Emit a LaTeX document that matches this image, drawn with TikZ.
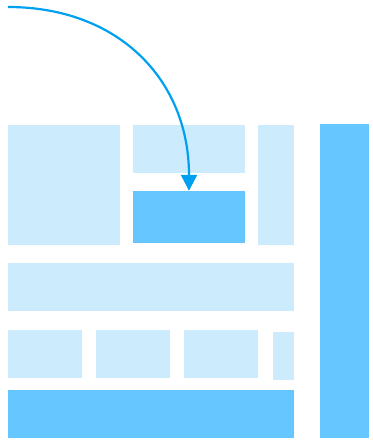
\documentclass[tikz,border=0pt]{standalone}
\usetikzlibrary{arrows.meta, positioning}
\definecolor{lightblock}{RGB}{204,235,253}
\definecolor{darkblock}{RGB}{102,198,255}
\definecolor{arrowcolor}{RGB}{0,160,240}

\begin{document}
\begin{tikzpicture}[x=1pt, y=-1pt]
  \tikzset{
    light/.style={
      fill=lightblock,
      draw=none,
      inner sep=0pt,
      anchor=center
    },
    dark/.style={
      fill=darkblock,
      draw=none,
      inner sep=0pt,
      anchor=center
    },
    moveto/.style={
      draw=arrowcolor,
      line width=2.2pt,
      -{Triangle[width=16pt, length=16pt]}
    }
  }
  \useasboundingbox (0,0) rectangle (372,441);

  % Upper blocks
  \node[light, minimum width=112pt, minimum height=120pt] at (64,185) (bigleft) {};
  \node[light, minimum width=112pt, minimum height=48pt] at (189,149) (topmid) {};
  \node[dark, minimum width=112pt, minimum height=52pt] at (189,217) (target) {};
  \node[light, minimum width=36pt, minimum height=120pt] at (276,185) (narrow) {};

  % Wide bar
  \node[light, minimum width=286pt, minimum height=48pt] at (151,287) (widebar) {};

  % Row of small blocks
  \node[light, minimum width=74pt, minimum height=48pt] at (45,354) (small1) {};
  \node[light, minimum width=74pt, minimum height=48pt] at (133,354) (small2) {};
  \node[light, minimum width=74pt, minimum height=48pt] at (221,354) (small3) {};
  \node[light, minimum width=21pt, minimum height=48pt] at (283.5,356) (small4) {};

  % Bottom bar and side column
  \node[dark, minimum width=286pt, minimum height=48pt] at (151,414) (bottombar) {};
  \node[dark, minimum width=49pt, minimum height=314pt] at (344.5,281) (sidecol) {};

  % Moving arrow
  \coordinate (start) at (8,7);
  \draw[moveto] (start) to[out=0, in=90, looseness=1.1] (target.north);

\end{tikzpicture}
\end{document}
